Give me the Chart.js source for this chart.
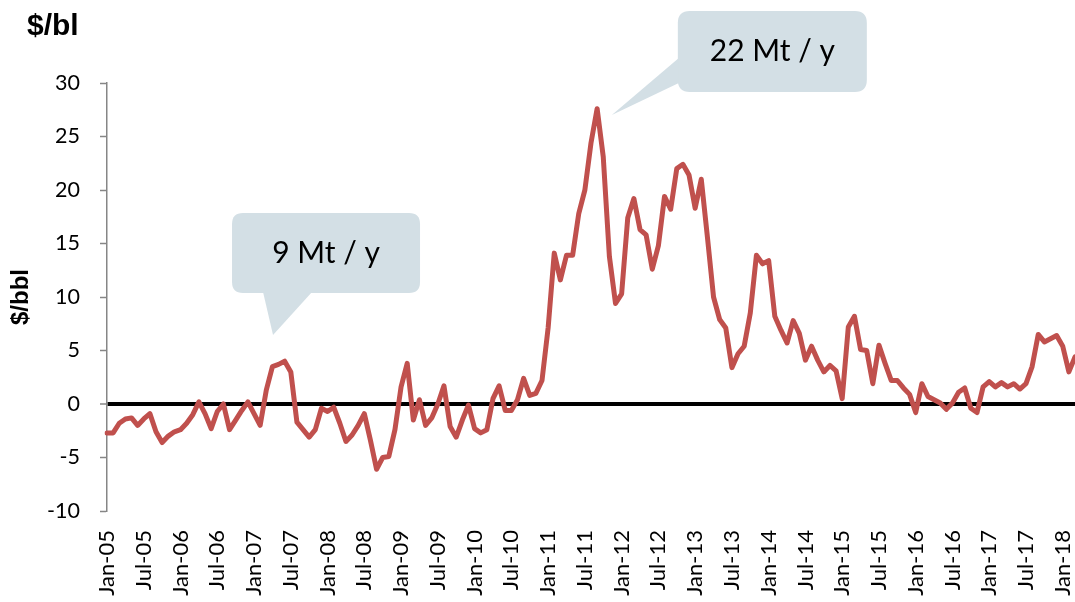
<!DOCTYPE html>
<html>
<head>
<meta charset="utf-8">
<script src="https://cdn.jsdelivr.net/npm/chart.js@4.4.1/dist/chart.umd.min.js"></script>
<style>
  html, body { margin: 0; padding: 0; background: #fff; overflow: hidden; }
  #wrap { width: 1075px; height: 602px; position: relative; }
</style>
</head>
<body>
<div id="wrap"><canvas id="spread-chart"></canvas></div>
<script>
// monthly categories Jan-05 .. Mar-18
const monthNames = ['Jan', 'Feb', 'Mar', 'Apr', 'May', 'Jun', 'Jul', 'Aug', 'Sep', 'Oct', 'Nov', 'Dec'];
const years = ['05', '06', '07', '08', '09', '10', '11', '12', '13', '14', '15', '16', '17', '18'];
const lastMonthCount = 3; // data stops at Mar-18

const months = [];
years.forEach((y, yi) => {
  const n = yi === years.length - 1 ? lastMonthCount : 12;
  for (let m = 0; m < n; m++) months.push(monthNames[m] + '-' + y);
});

// spread, $/bbl
const spread = [
  -2.7, -2.7, -1.8, -1.4, -1.3, -2.0, -1.4, -0.9, -2.6, -3.6, -3.0, -2.6,
  -2.4, -1.8, -1.0, 0.2, -0.9, -2.3, -0.7, 0.0, -2.4, -1.5, -0.6, 0.2,
  -0.9, -2.0, 1.3, 3.5, 3.7, 4.0, 3.0, -1.7, -2.4, -3.1, -2.4, -0.4,
  -0.7, -0.3, -1.8, -3.5, -2.9, -2.0, -0.9, -3.4, -6.1, -5.0, -4.9, -2.4,
  1.6, 3.8, -1.5, 0.4, -2.0, -1.3, 0.0, 1.7, -2.1, -3.1, -1.5, -0.1,
  -2.3, -2.7, -2.4, 0.5, 1.7, -0.6, -0.6, 0.4, 2.4, 0.8, 1.0, 2.2,
  7.1, 14.1, 11.6, 13.9, 13.9, 17.8, 20.0, 24.4, 27.6, 23.1, 13.8, 9.4,
  10.3, 17.4, 19.2, 16.3, 15.8, 12.6, 14.8, 19.4, 18.2, 22.0, 22.4, 21.4,
  18.3, 21.0, 15.6, 10.0, 7.9, 7.1, 3.4, 4.7, 5.4, 8.5, 13.9, 13.1,
  13.4, 8.2, 6.9, 5.7, 7.8, 6.6, 4.1, 5.4, 4.1, 3.0, 3.6, 3.1,
  0.5, 7.2, 8.2, 5.1, 5.0, 1.9, 5.5, 3.8, 2.2, 2.2, 1.5, 0.9,
  -0.8, 1.9, 0.7, 0.4, 0.1, -0.5, 0.1, 1.1, 1.5, -0.4, -0.8, 1.6,
  2.1, 1.6, 2.0, 1.6, 1.9, 1.4, 1.9, 3.5, 6.5, 5.8, 6.1, 6.4,
  5.4, 3.0, 4.4
];

const yTicks = [-10, -5, 0, 5, 10, 15, 20, 25, 30];

// callouts: text + the point the tail aims at (category index, value)
const calloutText = ['9 Mt / y', '22 Mt / y'];
const calloutIndex = [27.1, 82.4];
const calloutValue = [6.45, 27.0];

const BOX_FILL = '#D3DFE5';

function roundRect(ctx, x, y, w, h, r) {
  ctx.beginPath();
  ctx.moveTo(x + r, y);
  ctx.lineTo(x + w - r, y);
  ctx.quadraticCurveTo(x + w, y, x + w, y + r);
  ctx.lineTo(x + w, y + h - r);
  ctx.quadraticCurveTo(x + w, y + h, x + w - r, y + h);
  ctx.lineTo(x + r, y + h);
  ctx.quadraticCurveTo(x, y + h, x, y + h - r);
  ctx.lineTo(x, y + r);
  ctx.quadraticCurveTo(x, y, x + r, y);
  ctx.closePath();
}

const extras = {
  id: 'extras',
  afterDraw(chart) {
    const ctx = chart.ctx;
    const xs = chart.scales.x, ys = chart.scales.y;
    ctx.save();

    // top-left unit label
    ctx.fillStyle = '#000';
    ctx.font = 'bold 30px "Liberation Sans", Arial, sans-serif';
    ctx.textAlign = 'left';
    ctx.textBaseline = 'alphabetic';
    ctx.fillText('$/bl', 27, 35);

    // first callout: tail from the bottom edge
    let tx = xs.getPixelForValue(calloutIndex[0]);
    let ty = ys.getPixelForValue(calloutValue[0]);
    let bx = tx - 41, by = ty - 122, bw = 188, bh = 80;
    ctx.fillStyle = BOX_FILL;
    roundRect(ctx, bx, by, bw, bh, 11);
    ctx.fill();
    ctx.beginPath();
    ctx.moveTo(tx - 10, by + bh - 1);
    ctx.lineTo(tx + 39, by + bh - 1);
    ctx.lineTo(tx, ty);
    ctx.closePath();
    ctx.fill();
    ctx.fillStyle = '#000';
    ctx.font = '30px Lato, "Open Sans", sans-serif';
    ctx.textAlign = 'center';
    ctx.textBaseline = 'middle';
    ctx.fillText(calloutText[0], bx + bw / 2, by + bh / 2);

    // second callout: tail from the left edge
    tx = xs.getPixelForValue(calloutIndex[1]);
    ty = ys.getPixelForValue(calloutValue[1]);
    bx = tx + 66; by = ty - 104; bw = 189; bh = 81;
    ctx.fillStyle = BOX_FILL;
    roundRect(ctx, bx, by, bw, bh, 12);
    ctx.fill();
    ctx.beginPath();
    ctx.moveTo(bx + 1, by + 47);
    ctx.lineTo(bx + 1, by + 72);
    ctx.lineTo(tx, ty);
    ctx.closePath();
    ctx.fill();
    ctx.fillStyle = '#000';
    ctx.fillText(calloutText[1], bx + bw / 2, by + bh / 2);

    ctx.restore();
  }
};

const ctx = document.getElementById('spread-chart');

new Chart(ctx, {
  type: 'line',
  data: {
    labels: months,
    datasets: [{
      data: spread,
      borderColor: '#C0504D',
      borderWidth: 5,
      pointRadius: 0,
      tension: 0,
      borderJoinStyle: 'round',
      borderCapStyle: 'round'
    }]
  },
  options: {
    responsive: true,
    maintainAspectRatio: false,
    animation: false,
    layout: {
      padding: { top: 83, left: 7, right: 0, bottom: 0 }
    },
    plugins: {
      legend: { display: false },
      tooltip: { enabled: false }
    },
    scales: {
      x: {
        offset: false,
        grid: { display: false, drawTicks: false },
        border: { display: false },
        ticks: {
          autoSkip: false,
          minRotation: 90,
          maxRotation: 90,
          padding: 19,
          color: '#000',
          font: { family: 'Lato', size: 22 },
          callback: (v, i) => (i % 6 === 0 ? months[i] : null)
        },
        afterFit: (s) => {
          s.height = 91;
          s.paddingLeft = 0;
          s.paddingRight = 0;
        }
      },
      y: {
        min: -10,
        max: 30,
        afterBuildTicks: (s) => { s.ticks = yTicks.map(v => ({ value: v })); },
        grid: {
          color: (c) => (c.tick && c.tick.value === 0 ? '#000' : 'rgba(0,0,0,0)'),
          lineWidth: (c) => (c.tick && c.tick.value === 0 ? 4 : 1),
          drawTicks: true,
          tickLength: 7,
          tickColor: '#868686',
          tickWidth: 1.5
        },
        border: { display: true, color: '#868686', width: 1.5 },
        ticks: {
          padding: 20,
          color: '#000',
          font: { family: 'Lato', size: 21.5 }
        },
        title: {
          display: true,
          text: '$/bbl',
          color: '#000',
          padding: 0,
          font: { family: 'Liberation Sans', weight: 'bold', size: 24 }
        },
        afterFit: (s) => {
          s.width = 100;
          s.paddingTop = 0;
          s.paddingBottom = 0;
        }
      }
    }
  },
  plugins: [extras]
});
</script>
</body>
</html>
